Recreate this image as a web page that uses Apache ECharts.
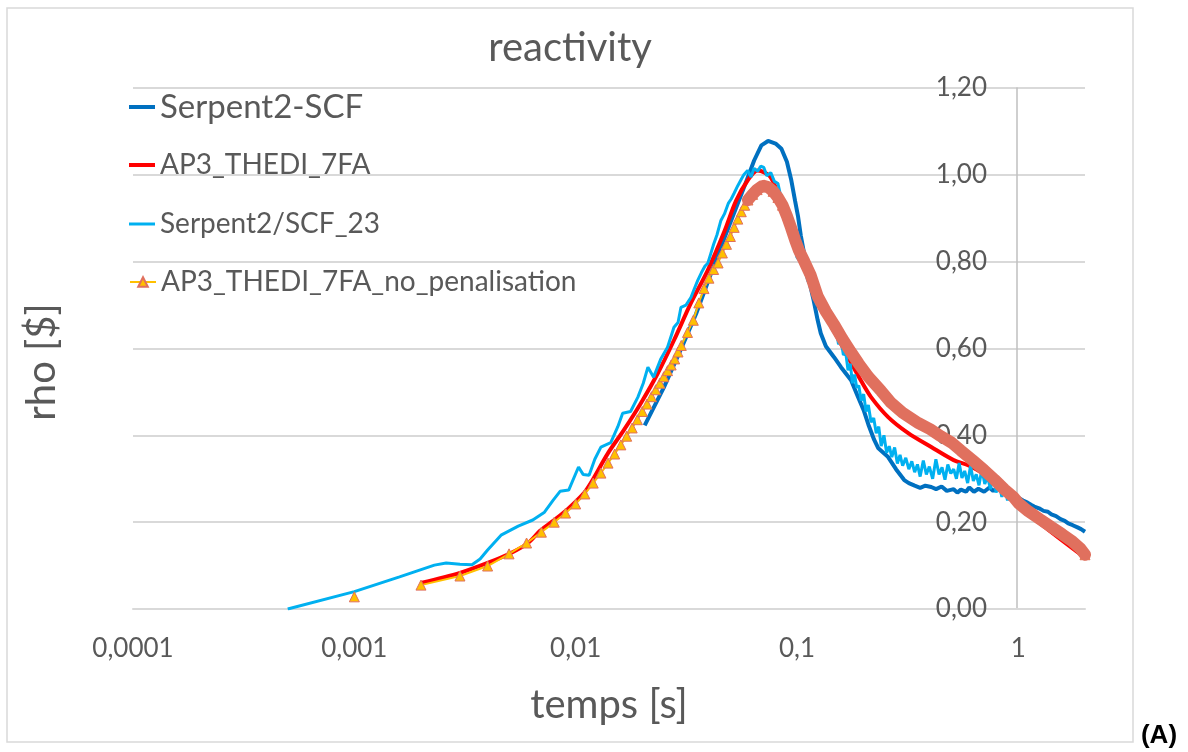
<!DOCTYPE html>
<html>
<head>
<meta charset="utf-8">
<script src="https://cdn.jsdelivr.net/npm/echarts@6/dist/echarts.min.js"></script>
<style>
html,body{margin:0;padding:0;background:#fff;}
#chart{width:1188px;height:752px;}
</style>
</head>
<body>
<div id="chart"></div>
<script>
// ---- Tick labels ----
const xTickValues = [0.0001, 0.001, 0.01, 0.1, 1];
const yTickValues = [0, 0.2, 0.4, 0.6, 0.8, 1.0, 1.2];

// ---- Serpent2-SCF ----
const tSCF = [0.0205,0.025,0.03,0.035,0.04,0.045,0.05,0.0575,0.064,0.069,0.074,0.08,0.085,0.09,0.094,0.098,0.101,0.104,0.108,0.113,0.119,0.124,0.128,0.135,0.147,0.158,0.1755,0.188,0.2,0.21,0.223,0.233,0.258,0.28,0.305,0.32,0.34,0.36,0.38,0.404,0.425,0.45,0.475,0.51,0.53,0.55,0.58,0.6,0.63,0.66,0.7,0.74,0.77,0.8,0.84,0.88,0.92,0.96,1.0,1.05,1.1,1.14,1.18,1.24,1.3,1.36,1.41,1.48,1.55,1.62,1.68,1.76,1.85,1.92,2.0];
const rhoSCF = [0.423,0.51,0.6,0.68,0.76,0.83,0.89,0.97,1.033,1.068,1.078,1.072,1.06,1.03,0.99,0.94,0.905,0.86,0.815,0.76,0.71,0.665,0.635,0.605,0.58,0.557,0.527,0.49,0.458,0.425,0.39,0.37,0.35,0.322,0.297,0.29,0.284,0.279,0.284,0.281,0.276,0.282,0.272,0.276,0.268,0.275,0.27,0.28,0.27,0.277,0.27,0.28,0.272,0.278,0.272,0.268,0.264,0.262,0.256,0.25,0.245,0.24,0.236,0.232,0.226,0.224,0.218,0.214,0.207,0.203,0.197,0.193,0.188,0.184,0.178];

// ---- AP3_THEDI_7FA ----
const tAP3 = [0.002,0.003,0.004,0.0051,0.0061,0.0069,0.008,0.0092,0.0109,0.0117,0.014,0.0165,0.0197,0.0235,0.0278,0.0331,0.0395,0.047,0.053,0.0598,0.0664,0.0761,0.091,0.104,0.116,0.128,0.147,0.17,0.195,0.216,0.258,0.318,0.404,0.51,0.6,0.75,1.0,1.4,2.0];
const rhoAP3 = [0.06,0.083,0.106,0.129,0.152,0.18,0.205,0.23,0.267,0.29,0.359,0.412,0.474,0.543,0.619,0.704,0.78,0.87,0.94,0.987,1.01,0.994,0.895,0.81,0.745,0.695,0.64,0.58,0.525,0.488,0.442,0.405,0.373,0.343,0.33,0.3,0.238,0.178,0.118];

// ---- Serpent2/SCF_23 ----
const tSCF23 = [0.0005,0.001,0.0016,0.0023,0.0026,0.003,0.0034,0.0037,0.004,0.0046,0.0055,0.0064,0.0072,0.0079,0.0085,0.0093,0.0103,0.0108,0.0115,0.0122,0.013,0.0144,0.0155,0.0163,0.0177,0.0191,0.0202,0.0212,0.0225,0.0242,0.026,0.0278,0.029,0.0299,0.0315,0.0332,0.0345,0.0356,0.037,0.0384,0.0395,0.0408,0.042,0.0435,0.0453,0.047,0.049,0.0505,0.0519,0.054,0.056,0.0575,0.0598,0.062,0.064,0.0664,0.0685,0.0708,0.073,0.0761,0.079,0.082,0.0845,0.0873,0.09,0.093,0.097,0.1,0.1035,0.1076,0.112,0.116,0.119,0.123,0.128,0.133,0.138,0.142,0.146,0.150,0.154,0.158,0.162,0.166,0.170,0.174,0.178,0.182,0.186,0.190,0.195,0.200,0.205,0.210,0.216,0.222,0.228,0.234,0.240,0.247,0.254,0.261,0.268,0.276,0.284,0.292,0.300,0.31,0.32,0.33,0.34,0.35,0.36,0.372,0.384,0.396,0.41,0.424,0.438,0.452,0.466,0.48,0.495,0.51,0.525,0.54,0.556,0.572,0.59,0.608,0.626,0.645,0.664,0.684,0.705,0.726,0.748,0.77,0.793,0.817,0.842,0.867,0.893,0.92,0.948,0.976,1.0];
const rhoSCF23 = [0.0,0.04,0.074,0.101,0.106,0.103,0.102,0.115,0.136,0.17,0.191,0.205,0.222,0.25,0.271,0.274,0.327,0.31,0.308,0.345,0.373,0.383,0.42,0.451,0.455,0.488,0.52,0.557,0.534,0.575,0.603,0.649,0.66,0.695,0.70,0.718,0.74,0.757,0.775,0.79,0.796,0.819,0.84,0.862,0.895,0.91,0.935,0.945,0.957,0.975,0.99,1.0,1.01,0.995,1.015,1.008,1.02,1.017,0.998,1.005,0.985,0.98,0.95,0.925,0.895,0.865,0.842,0.81,0.80,0.787,0.755,0.745,0.727,0.70,0.715,0.68,0.665,0.672,
  0.64,0.645,0.61,0.62,0.585,0.59,0.55,0.565,0.52,0.54,0.51,0.515,0.48,0.495,0.455,0.47,0.43,0.44,0.405,0.42,0.375,0.40,0.36,0.375,0.35,0.372,0.335,0.355,0.33,
  0.348,0.322,0.34,0.315,0.333,0.305,0.342,0.31,0.328,0.3,0.345,0.31,0.326,0.298,0.333,0.312,0.322,0.3,0.336,0.302,0.318,0.29,0.33,0.295,0.31,0.285,0.322,0.288,0.305,0.276,0.31,0.268,0.29,0.258,0.285,0.25,0.275,0.248,0.262,0.245];

// ---- AP3_THEDI_7FA_no_penalisation ----
const tNoPen = [0.001,0.0015,0.002,0.003,0.004,0.005,0.006,0.007,0.008,0.009,0.010,0.011,0.012,0.013,0.014,0.015,0.016,0.017,0.018,0.019,0.020,0.021,0.022,0.023,0.024,0.025,0.026,0.027,0.028,0.029,0.030,0.032,0.034,0.036,0.038,0.040,0.042,0.044,0.046,0.048,0.050,0.052,0.054,0.056,0.058,0.060,0.063,0.066,0.070,0.074,0.078,0.082,0.086,0.090,0.094,0.098,0.102,0.108,0.115,0.124,0.135,0.147,0.16,0.175,0.19,0.21,0.24,0.266,0.3,0.354,0.4,0.446,0.5,0.55,0.62,0.7,0.78,0.867,0.95,1.0,1.11,1.25,1.41,1.58,1.76,1.9,2.0];
const rhoNoPen = [0.028,null,0.055,0.076,0.099,0.127,0.152,0.177,0.2,0.221,0.242,0.265,0.29,0.313,0.336,0.357,0.378,0.398,0.417,0.436,0.455,0.472,0.489,0.505,0.52,0.535,0.549,0.562,0.576,0.592,0.607,0.637,0.665,0.705,0.738,0.762,0.782,0.797,0.82,0.84,0.858,0.879,0.898,0.915,0.93,0.942,0.955,0.966,0.975,0.972,0.962,0.948,0.93,0.905,0.878,0.85,0.826,0.80,0.77,0.72,0.685,0.655,0.623,0.592,0.565,0.535,0.502,0.475,0.452,0.428,0.414,0.398,0.383,0.365,0.343,0.32,0.298,0.275,0.258,0.244,0.225,0.207,0.189,0.172,0.155,0.14,0.125];

const FONT = 'Lato';
const GREY = '#595959';

const pair = (ts, vs) => ts.map((t, i) => [t, vs[i]]);
// markers merge into a solid band where the points are dense
const noPenData = tNoPen.map((t, i) => {
  const v = rhoNoPen[i];
  if (v == null) return [t, null];
  if (t >= 0.09 && t < 2) return {value: [t, v], symbol: 'none'};
  return [t, v];
});
const bandData = pair(tNoPen, rhoNoPen).filter(d => d[0] >= 0.06 && d[1] != null);

const fmtX = v => {
  const hit = xTickValues.find(t => Math.abs(Math.log10(v) - Math.log10(t)) < 1e-6);
  return hit === undefined ? '' : String(hit).replace('.', ',');
};
const fmtY = v => {
  const hit = yTickValues.find(t => Math.abs(v - t) < 1e-6);
  return hit === undefined ? '' : hit.toFixed(2).replace('.', ',');
};

const chart = echarts.init(document.getElementById('chart'), null, {renderer: 'canvas'});

const legendBase = (name, center, size, icon, h) => {
  const item = {name: name};
  if (icon) item.icon = icon;
  return {
    data: [item],
    left: 124, top: center - 17,
    itemWidth: 26, itemHeight: h,
    textStyle: {fontFamily: FONT, fontSize: size, color: GREY, lineHeight: 34},
    selectedMode: false
  };
};

chart.setOption({
  animation: false,
  backgroundColor: '#fff',
  grid: {left: 133, right: 103, top: 88, bottom: 143},
  legend: [
    legendBase('Serpent2-SCF', 102, 33, 'rect', 4),
    legendBase('AP3_THEDI_7FA', 160, 28, 'rect', 4),
    legendBase('Serpent2/SCF_23', 219, 28, 'rect', 3),
    legendBase('AP3_THEDI_7FA_no_penalisation', 277, 28, null, 12)
  ],
  xAxis: {
    type: 'log', logBase: 10, min: 0.0001, max: 2,
    axisLine: {show: true, onZero: false, lineStyle: {color: '#D9D9D9', width: 2}},
    axisTick: {show: false},
    splitLine: {show: false},
    axisLabel: {fontFamily: FONT, fontSize: 26, color: GREY, margin: 27, formatter: fmtX, showMaxLabel: false},
    name: 'temps [s]', nameLocation: 'middle', nameGap: 76,
    nameTextStyle: {fontFamily: FONT, fontSize: 40, color: GREY}
  },
  yAxis: {
    type: 'value', min: 0, max: 1.2, interval: 0.2,
    position: 'left', offset: -884,
    axisLine: {show: true, onZero: false, lineStyle: {color: '#BFBFBF', width: 1.5}},
    axisTick: {show: false},
    splitLine: {show: true, lineStyle: {color: '#D9D9D9', width: 2}},
    axisLabel: {fontFamily: FONT, fontSize: 26, color: GREY, margin: 30, formatter: fmtY}
  },
  graphic: [
    {type: 'rect', shape: {x: 7, y: 8, width: 1126, height: 734}, style: {fill: 'none', stroke: '#D9D9D9', lineWidth: 1.5}, z: -10, silent: true},
    {type: 'text', x: 570, y: 48, style: {text: 'reactivity', font: '40px ' + FONT, fill: GREY, textAlign: 'center', textVerticalAlign: 'middle'}},
    {type: 'text', x: 42, y: 362, rotation: Math.PI / 2, style: {text: 'rho [$]', font: '40px ' + FONT, fill: GREY, textAlign: 'center', textVerticalAlign: 'middle'}},
    {type: 'text', x: 1159, y: 736, style: {text: '(A)', font: 'bold 26px "Liberation Sans", Arial', fill: '#000', textAlign: 'center', textVerticalAlign: 'middle'}}
  ],
  series: [
    {name: 'Serpent2-SCF', type: 'line', data: pair(tSCF, rhoSCF), symbol: 'none',
     lineStyle: {color: '#0070C0', width: 4}, itemStyle: {color: '#0070C0'}},
    {name: 'AP3_THEDI_7FA', type: 'line', data: pair(tAP3, rhoAP3), symbol: 'none', smooth: 0.3,
     lineStyle: {color: '#FF0000', width: 4}, itemStyle: {color: '#FF0000'}},
    {name: 'Serpent2/SCF_23', type: 'line', data: pair(tSCF23, rhoSCF23), symbol: 'none',
     lineStyle: {color: '#00B0F0', width: 3}, itemStyle: {color: '#00B0F0'}},
    {name: 'AP3_THEDI_7FA_no_penalisation', type: 'line', data: noPenData,
     symbol: 'triangle', symbolSize: 10, showAllSymbol: true, connectNulls: false,
     lineStyle: {color: '#FFC000', width: 2},
     itemStyle: {color: '#FFC000', borderColor: '#E0705E', borderWidth: 1}},
    {name: 'band', type: 'line', data: bandData, symbol: 'none', silent: true, z: 10,
     lineStyle: {color: '#E0705E', width: 12, cap: 'round'}, itemStyle: {color: '#E0705E'}}
  ]
});
</script>
</body>
</html>
